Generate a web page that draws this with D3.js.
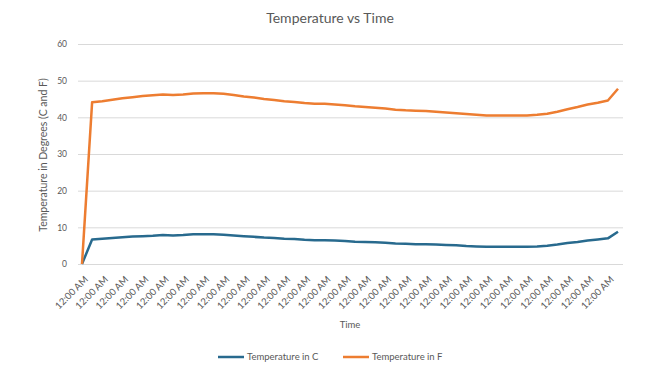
<!DOCTYPE html>
<html>
<head>
<meta charset="utf-8">
<script src="https://cdn.jsdelivr.net/npm/d3@7"></script>
<style>
  body { margin: 0; background: #fff; }
  svg { display: block; font-family: Lato, "Open Sans", sans-serif; }
</style>
</head>
<body>
<div id="chart"></div>
<script>
// readings are every ~10px along the time axis, labels only every other one
const tempF = [0, 44.1, 44.4, 44.8, 45.2, 45.5, 45.8, 46.0, 46.2, 46.1,
  46.2, 46.5, 46.6, 46.6, 46.4, 46.1, 45.7, 45.4, 45.0, 44.7,
  44.4, 44.2, 43.9, 43.7, 43.7, 43.5, 43.3, 43.0, 42.8, 42.6,
  42.4, 42.1, 41.9, 41.8, 41.7, 41.5, 41.3, 41.1, 40.9, 40.7,
  40.5, 40.5, 40.5, 40.5, 40.5, 40.7, 41.0, 41.5, 42.2, 42.8,
  43.5, 44.0, 44.6, 47.8];
const tempC = [0, 6.7, 6.9, 7.1, 7.3, 7.5, 7.6, 7.7, 7.9, 7.8,
  7.9, 8.1, 8.1, 8.1, 8.0, 7.8, 7.6, 7.4, 7.2, 7.1,
  6.9, 6.8, 6.6, 6.5, 6.5, 6.4, 6.3, 6.1, 6.0, 5.9,
  5.8, 5.6, 5.5, 5.4, 5.4, 5.3, 5.2, 5.1, 4.9, 4.8,
  4.7, 4.7, 4.7, 4.7, 4.7, 4.8, 5.0, 5.3, 5.7, 6.0,
  6.4, 6.7, 7.0, 8.8];
const times = tempC.map(() => "12:00 AM");
const yTicks = [0, 10, 20, 30, 40, 50, 60];

const seriesNames = ["Temperature in C", "Temperature in F"];
const colorC = "#286a8e";
const colorF = "#ed7d31";
const textColor = "#595959";

const width = 649, height = 375;
const plotLeft = 82, plotRight = 618, plotTop = 44, plotBottom = 264;

const svg = d3.select("#chart").append("svg")
    .attr("width", width)
    .attr("height", height);

// スケール
const xScale = d3.scalePoint()
    .domain(d3.range(times.length))
    .range([plotLeft, plotRight]);
const yScale = d3.scaleLinear()
    .domain([0, 60])
    .range([plotBottom, plotTop]);

// title
svg.append("text")
    .attr("x", 330)
    .attr("y", 23)
    .attr("text-anchor", "middle")
    .attr("font-size", 14)
    .attr("fill", textColor)
    .text("Temperature vs Time");

// gridlines + y labels
const yAxis = d3.axisLeft(yScale)
    .tickValues(yTicks)
    .tickSize(-(623 - 78))
    .tickPadding(11);
const gy = svg.append("g")
    .attr("transform", `translate(78,0)`)
    .call(yAxis);
gy.select(".domain").remove();
gy.selectAll(".tick line").attr("stroke", "#d9d9d9").attr("stroke-width", 1);
gy.selectAll(".tick text")
    .attr("fill", textColor)
    .attr("font-size", 8.5)
    .attr("font-family", "Lato, sans-serif");

// x labels (every second category)
const xAxis = d3.axisBottom(xScale)
    .tickValues(d3.range(0, times.length, 2))
    .tickFormat(i => times[i])
    .tickSize(0);
const gx = svg.append("g")
    .attr("transform", `translate(0,${plotBottom})`)
    .call(xAxis);
gx.select(".domain").remove();
gx.selectAll(".tick text")
    .attr("fill", textColor)
    .attr("font-size", 9.5)
    .attr("font-family", "Lato, sans-serif")
    .attr("text-anchor", "end")
    .attr("dy", 0)
    .attr("transform", "translate(4,14) rotate(-45)");

// axis titles
svg.append("text")
    .attr("transform", "translate(47,155) rotate(-90)")
    .attr("text-anchor", "middle")
    .attr("font-size", 10.5)
    .attr("fill", textColor)
    .text("Temperature in Degrees (C and F)");

svg.append("text")
    .attr("x", 350)
    .attr("y", 328)
    .attr("text-anchor", "middle")
    .attr("font-size", 9.5)
    .attr("fill", textColor)
    .text("Time");

// lines
const line = d3.line()
    .x((d, i) => xScale(i))
    .y(d => yScale(d));

svg.append("path")
    .datum(tempC)
    .attr("fill", "none")
    .attr("stroke", colorC)
    .attr("stroke-width", 2.5)
    .attr("stroke-linejoin", "round")
    .attr("d", line);

svg.append("path")
    .datum(tempF)
    .attr("fill", "none")
    .attr("stroke", colorF)
    .attr("stroke-width", 2.5)
    .attr("stroke-linejoin", "round")
    .attr("d", line);

// legend
const legend = [
    {name: seriesNames[0], color: colorC, x: 218},
    {name: seriesNames[1], color: colorF, x: 343}
];
const lg = svg.selectAll(".legend").data(legend).enter().append("g")
    .attr("class", "legend")
    .attr("transform", d => `translate(${d.x},357)`);
lg.append("line")
    .attr("x1", 0).attr("x2", 26)
    .attr("stroke", d => d.color)
    .attr("stroke-width", 2.5);
lg.append("text")
    .attr("x", 29)
    .attr("y", 3)
    .attr("font-size", 9.5)
    .attr("fill", textColor)
    .text(d => d.name);
</script>
</body>
</html>
